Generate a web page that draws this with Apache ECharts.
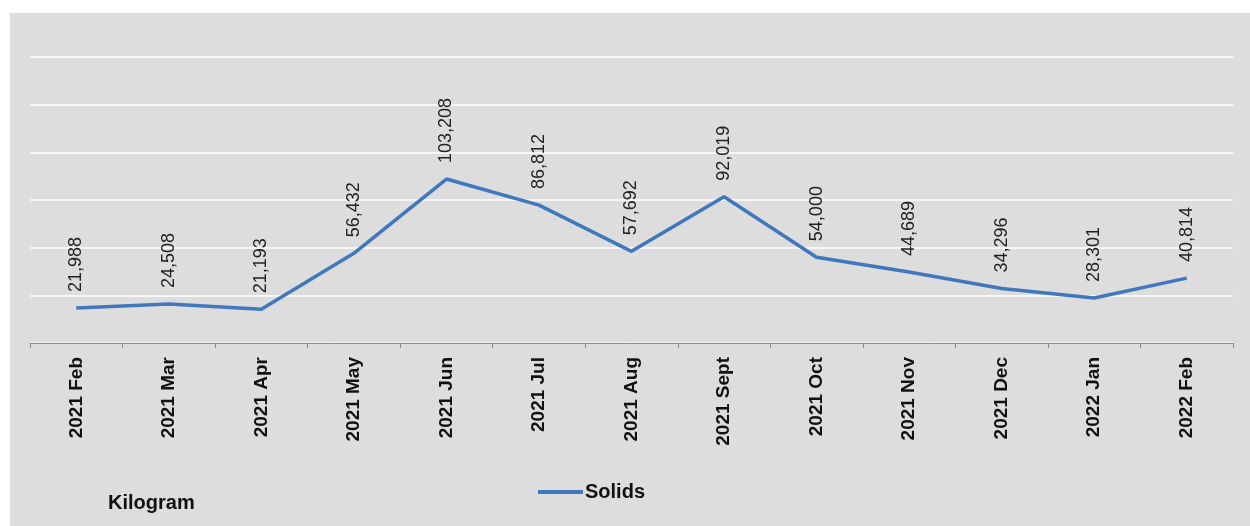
<!DOCTYPE html>
<html>
<head>
<meta charset="utf-8">
<script src="https://cdn.jsdelivr.net/npm/echarts@6/dist/echarts.min.js"></script>
<style>
html,body{margin:0;padding:0;background:#ffffff;}
#chart{width:1250px;height:526px;}
</style>
</head>
<body>
<div id="chart"></div>
<script>
const categories = ['2021 Feb','2021 Mar','2021 Apr','2021 May','2021 Jun','2021 Jul','2021 Aug','2021 Sept','2021 Oct','2021 Nov','2021 Dec','2022 Jan','2022 Feb'];
const solids = [21988, 24508, 21193, 56432, 103208, 86812, 57692, 92019, 54000, 44689, 34296, 28301, 40814];
const seriesName = 'Solids';
const unitLabel = 'Kilogram';

const chart = echarts.init(document.getElementById('chart'), null, {renderer: 'canvas'});
const FONT = '"Liberation Sans", Arial, sans-serif';
chart.setOption({
  backgroundColor: '#ffffff',
  animation: false,
  graphic: [
    {type: 'rect', left: 10, top: 13, shape: {width: 1240, height: 513}, style: {fill: '#dddddd'}, z: -10, silent: true},
    {type: 'text', left: 108, top: 493, style: {text: unitLabel, font: 'bold 20px ' + FONT, fill: '#111111'}}
  ],
  grid: {left: 30, right: 17, top: 57, bottom: 183, containLabel: false},
  legend: {
    data: [{name: seriesName, icon: 'rect'}],
    left: 538, top: 482, padding: 0,
    itemWidth: 45, itemHeight: 4, itemGap: 5,
    textStyle: {fontFamily: FONT, fontSize: 20, fontWeight: 'bold', color: '#111111', padding: [0,0,0,-3]}
  },
  xAxis: {
    type: 'category',
    data: categories,
    boundaryGap: true,
    axisLine: {show: true, lineStyle: {color: '#8a8a8a', width: 1}},
    axisTick: {show: true, length: 5, lineStyle: {color: '#8a8a8a'}},
    axisLabel: {rotate: 90, margin: 14, fontFamily: FONT, fontSize: 19, fontWeight: 'bold', color: '#111111', interval: 0}
  },
  yAxis: {
    type: 'value',
    min: 0, max: 180000, interval: 30000,
    axisLabel: {show: false},
    axisLine: {show: false},
    axisTick: {show: false},
    splitLine: {show: true, lineStyle: {color: '#ffffff', width: 1.5}}
  },
  series: [{
    name: seriesName,
    type: 'line',
    data: solids,
    symbol: 'circle',
    symbolSize: 0.1,
    showSymbol: true,
    lineStyle: {color: '#4177bd', width: 3.5},
    itemStyle: {color: '#4177bd'},
    label: {
      show: true,
      position: 'top',
      distance: 16,
      rotate: 90,
      align: 'left',
      verticalAlign: 'middle',
      fontFamily: FONT,
      fontSize: 18,
      color: '#222222',
      formatter: p => p.value.toLocaleString('en-US')
    }
  }]
});
</script>
</body>
</html>
